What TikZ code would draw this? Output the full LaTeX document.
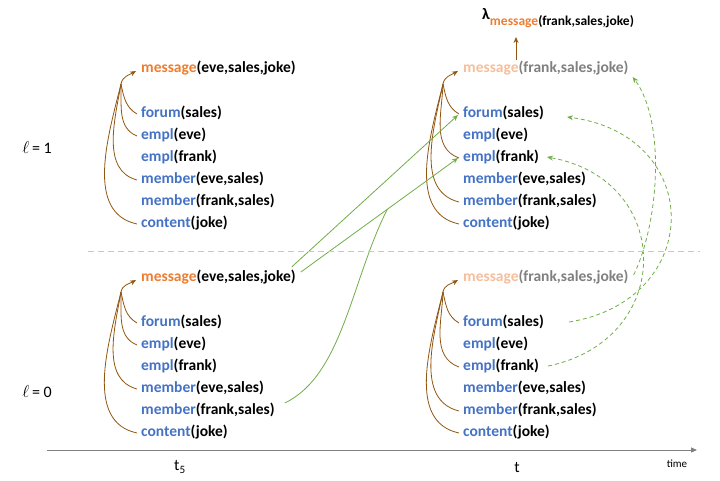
\documentclass[tikz,border=0pt]{standalone}
\usepackage{fontspec}
\setmainfont{Carlito}
\usetikzlibrary{arrows.meta,calc}
\definecolor{predblue}{RGB}{68,114,196}
\definecolor{msgorange}{RGB}{237,125,49}
\definecolor{msglight}{RGB}{246,190,155}
\definecolor{graytxt}{RGB}{128,128,128}
\definecolor{brownC}{RGB}{145,85,15}
\definecolor{greenC}{RGB}{112,173,71}
\definecolor{axisgray}{RGB}{128,128,128}
\definecolor{sepgray}{RGB}{200,200,200}
\newcommand\atomA[2]{\textcolor{predblue}{#1}(#2)}
\newcommand\msgpale[1]{\textcolor{msglight}{message}\textcolor{graytxt}{(#1)}}
\begin{document}
\begin{tikzpicture}[x=1pt,y=1pt,
 atom/.style={anchor=west, inner sep=0pt, font=\fontsize{15.5}{18}\selectfont\bfseries},
 lbl/.style={inner sep=0pt, font=\fontsize{16}{18}\selectfont},
 brownarc/.style={draw=brownC, line width=0.8pt},
 brownarrow/.style={brownarc, -{Stealth[length=6pt,width=5pt]}},
 greenline/.style={draw=greenC, line width=0.8pt},
 greenarrow/.style={greenline, -{Stealth[length=6pt,width=5pt]}},
 greendash/.style={greenarrow, dash pattern=on 4pt off 3pt},
 sepline/.style={draw=sepgray, line width=0.7pt, dash pattern=on 6pt off 4pt},
 axisline/.style={draw=axisgray, line width=0.9pt, -{Triangle[length=6pt,width=5pt]}}
 ]
\useasboundingbox (0,0) rectangle (720,480);

% ---------- upper-left group (level 1, t5)
\node[atom] (mUL)  at (141,412) {\textcolor{msgorange}{message}(eve,sales,joke)};
\node[atom] (fUL)  at (141,367) {\atomA{forum}{sales}};
\node[atom] (eeUL) at (141,345) {\atomA{empl}{eve}};
\node[atom] (efUL) at (141,323) {\atomA{empl}{frank}};
\node[atom] (meUL) at (141,301) {\atomA{member}{eve,sales}};
\node[atom] (mfUL) at (141,279) {\atomA{member}{frank,sales}};
\node[atom] (cUL)  at (141,257) {\atomA{content}{joke}};

% ---------- lower-left group (level 0, t5)
\node[atom] (mLL)  at (141,203) {\textcolor{msgorange}{message}(eve,sales,joke)};
\node[atom] (fLL)  at (141,158) {\atomA{forum}{sales}};
\node[atom] (eeLL) at (141,136) {\atomA{empl}{eve}};
\node[atom] (efLL) at (141,114) {\atomA{empl}{frank}};
\node[atom] (meLL) at (141,92)  {\atomA{member}{eve,sales}};
\node[atom] (mfLL) at (141,70)  {\atomA{member}{frank,sales}};
\node[atom] (cLL)  at (141,48)  {\atomA{content}{joke}};

% ---------- upper-right group (level 1, t)
\node[atom] (mUR)  at (463,412) {\msgpale{frank,sales,joke}};
\node[atom] (fUR)  at (463,367) {\atomA{forum}{sales}};
\node[atom] (eeUR) at (463,345) {\atomA{empl}{eve}};
\node[atom] (efUR) at (463,323) {\atomA{empl}{frank}};
\node[atom] (meUR) at (463,301) {\atomA{member}{eve,sales}};
\node[atom] (mfUR) at (463,279) {\atomA{member}{frank,sales}};
\node[atom] (cUR)  at (463,257) {\atomA{content}{joke}};

% ---------- lower-right group (level 0, t)
\node[atom] (mLR)  at (463,203) {\msgpale{frank,sales,joke}};
\node[atom] (fLR)  at (463,158) {\atomA{forum}{sales}};
\node[atom] (eeLR) at (463,136) {\atomA{empl}{eve}};
\node[atom] (efLR) at (463,114) {\atomA{empl}{frank}};
\node[atom] (meLR) at (463,92)  {\atomA{member}{eve,sales}};
\node[atom] (mfLR) at (463,70)  {\atomA{member}{frank,sales}};
\node[atom] (cLR)  at (463,48)  {\atomA{content}{joke}};

% ---------- lambda
\node[anchor=base west, inner sep=0pt, font=\fontsize{16}{18}\selectfont\bfseries] (lam) at (482,460)
  {λ\raisebox{-6pt}{\fontsize{13.5}{15}\selectfont\textcolor{msgorange}{message}(frank,sales,joke)}};
\coordinate (lamfoot) at (516,443);
\coordinate (msgtop) at (516,420);
\draw[brownarrow] (msgtop) -- (lamfoot);

% ---------- hubs of the brown rule arcs
\coordinate (hUL) at (121,396);
\coordinate (hLL) at (121,188);
\coordinate (hUR) at (443,396);
\coordinate (hLR) at (443,188);

\foreach \a/\o/\i/\l in {fUL/150/-78/1, eeUL/158/-88/1, meUL/165/-100/0.97, cUL/168/-104/0.97}
  \draw[brownarc] ([xshift=-4pt,yshift=-1pt]\a.west) to[out=\o,in=\i,looseness=\l] (hUL);
\draw[brownarrow] (hUL) to[out=80,in=210] ([xshift=-5pt,yshift=-3pt]mUL.west);

\foreach \a/\o/\i/\l in {fLL/150/-78/1, eeLL/158/-88/1, meLL/165/-100/0.97, cLL/168/-104/0.97}
  \draw[brownarc] ([xshift=-4pt,yshift=-1pt]\a.west) to[out=\o,in=\i,looseness=\l] (hLL);
\draw[brownarrow] (hLL) to[out=80,in=210] ([xshift=-5pt,yshift=-3pt]mLL.west);

\foreach \a/\o/\i/\l in {fUR/150/-78/1, efUR/160/-92/1, mfUR/166/-102/0.97, cUR/168/-104/0.97}
  \draw[brownarc] ([xshift=-4pt,yshift=-1pt]\a.west) to[out=\o,in=\i,looseness=\l] (hUR);
\draw[brownarrow] (hUR) to[out=80,in=210] ([xshift=-5pt,yshift=-3pt]mUR.west);

\foreach \a/\o/\i/\l in {fLR/150/-78/1, efLR/160/-92/1, mfLR/166/-102/0.97, cLR/168/-104/0.97}
  \draw[brownarc] ([xshift=-4pt,yshift=-1pt]\a.west) to[out=\o,in=\i,looseness=\l] (hLR);
\draw[brownarrow] (hLR) to[out=80,in=210] ([xshift=-5pt,yshift=-3pt]mLR.west);

% ---------- green solid connectors
\draw[greenarrow] ([xshift=-4pt,yshift=3pt]mLL.north east) -- ([xshift=-5pt,yshift=-2pt]fUR.west);
\draw[greenarrow] ([xshift=5pt,yshift=5pt]mLL.east) -- coordinate[pos=0.55] (gj) ([xshift=-5pt,yshift=-1pt]efUR.west);
\draw[greenline] ([xshift=10pt,yshift=7pt]mfLL.east) .. controls +(58,28) and +(-36,-71) .. (gj);

% ---------- green dashed connectors
\draw[greendash] ([xshift=5pt,yshift=2pt]mLR.east) .. controls (660,260) and (665,360) .. ([xshift=4pt,yshift=-9pt]mUR.east);
\draw[greendash] ([xshift=25pt]fLR.east) .. controls (705,180) and (705,345) .. ([xshift=23pt,yshift=-4pt]fUR.east);
\draw[greendash] ([xshift=9pt]efLR.east) .. controls (675,140) and (675,300) .. ([xshift=8pt]efUR.east);

% ---------- separator and time axis
\coordinate (sepL) at (88,229);
\coordinate (sepR) at (700,229);
\draw[sepline] (sepL) -- (sepR);
\coordinate (axL) at (47,30);
\coordinate (axR) at (697,30);
\draw[axisline] (axL) -- (axR);

\node[lbl] (t5) at (180,13) {t\textsubscript{5}};
\node[lbl] (tt) at (517,13) {t};
\node[inner sep=0pt, font=\fontsize{11}{12}\selectfont] (time) at (677,16) {time};
\node[lbl] (l1) at (37,332) {$\ell$\,= 1};
\node[lbl] (l0) at (37,88) {$\ell$\,= 0};
\end{tikzpicture}
\end{document}
